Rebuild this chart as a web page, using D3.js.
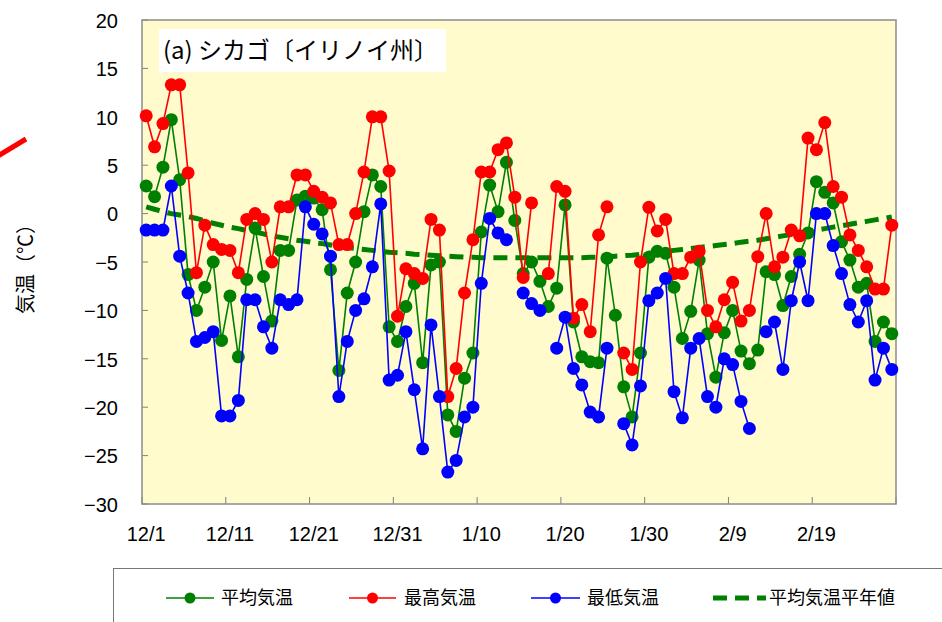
<!DOCTYPE html>
<html>
<head>
<meta charset="utf-8">
<script src="https://cdn.jsdelivr.net/npm/d3@7"></script>
<style>
  body { margin: 0; background: #fff; }
  svg { display: block; }
  .num { font-family: "Liberation Sans", "DejaVu Sans", sans-serif; font-size: 20px; fill: #000; }
  .jp { font-family: "Noto Sans CJK JP", sans-serif; fill: #000; }
</style>
</head>
<body>
<div id="chart"></div>
<script>
// days from 12/1 to 2/28
var dayLabels = ['12/1', '12/11', '12/21', '12/31', '1/10', '1/20', '1/30', '2/9', '2/19'];
var yTicks = [20, 15, 10, 5, 0, -5, -10, -15, -20, -25, -30];

// 平均気温
var meanTemp = [
  2.85, 1.75, 4.8, 9.7, 3.5, -6.3, -10.0, -7.6, -5.0, -13.1,
  -8.5, -14.8, -6.8, -1.5, -6.5, -11.1, -3.8, -3.8, 1.4, 1.8,
  1.6, 0.4, -5.8, -16.2, -8.2, -5.0, 0.2, 4.0, 2.8, -11.7,
  -13.2, -9.6, -7.2, -15.4, -5.3, -5.0, -20.8, -22.5, -17.0, -14.4,
  -1.9, 2.95, 0.2, 5.3, -0.7, -6.2, -5.0, -7.0, -9.6, -7.7,
  0.9, -11.2, -14.8, -15.3, -15.4, -4.6, -10.5, -17.9, -21.0, -14.4,
  -4.5, -3.9, -4.1, -7.6, -12.9, -10.1, -4.8, -12.4, -16.9, -12.3,
  -10.0, -14.2, -15.5, -14.1, -6.0, -6.3, -9.5, -6.5, -4.2, -2.0,
  3.3, 2.2, 1.1, -2.9, -4.8, -7.6, -7.2, -13.2, -11.2, -12.4
];

// 最高気温 (null = 欠測)
var maxTemp = [
  10.1, 6.9, 9.3, 13.3, 13.3, 4.2, -6.1, -1.2, -3.2, -3.7,
  -3.8, -6.1, -0.6, 0.0, -0.6, -5.0, 0.7, 0.7, 4.0, 4.0,
  2.3, 1.7, 1.1, -3.2, -3.2, 0.0, 4.3, 10.0, 10.0, 4.4,
  -10.6, -5.7, -6.2, -6.7, -0.6, -1.7, -18.9, -16.0, -8.2, -2.7,
  4.3, 4.3, 6.6, 7.3, 1.7, -6.6, 1.1, null, -6.2, 2.8,
  2.3, -10.8, -9.4, -12.2, -2.2, 0.7, null, -14.4, -16.1, -5.0,
  0.65, -1.8, -0.6, -6.2, -6.2, -4.5, -3.9, -10.0, -11.7, -8.9,
  -7.1, -11.1, -10.0, -4.45, 0.0, -5.5, -4.5, -1.7, -2.3, 7.8,
  6.6, 9.4, 2.8, 1.7, -2.2, -3.8, -5.5, -7.8, -7.8, -1.2
];

// 最低気温 (null = 欠測)
var minTemp = [
  -1.7, -1.7, -1.7, 2.85, -4.4, -8.2, -13.2, -12.8, -12.2, -20.9,
  -20.9, -19.3, -8.9, -8.9, -11.7, -13.9, -8.9, -9.4, -8.9, 0.7,
  -1.1, -2.1, -4.4, -18.9, -13.2, -10.0, -8.8, -5.5, 1.0, -17.2,
  -16.7, -12.2, -18.2, -24.3, -11.5, -18.9, -26.7, -25.5, -21.0, -20.0,
  -7.2, -0.5, -2.0, -2.7, null, -8.2, -9.3, -10.0, null, -13.9,
  -10.7, -16.0, -17.7, -20.5, -21.0, -13.9, null, -21.7, -23.9, -17.8,
  -9.0, -8.2, -6.7, -18.4, -21.1, -13.9, -12.9, -18.9, -20.0, -15.0,
  -15.6, -19.4, -22.2, null, -12.2, -11.2, -16.1, -9.0, -5.0, -9.0,
  0.0, 0.0, -3.3, -6.2, -9.4, -11.2, -9.0, -17.2, -13.9, -16.1
];

// 平均気温平年値
var normalTemp = [
  0.7, 0.45, 0.2, 0.0, -0.15, -0.3, -0.5, -0.75, -1.0, -1.2,
  -1.4, -1.55, -1.75, -1.9, -2.1, -2.3, -2.45, -2.6, -2.75, -2.85,
  -3.0, -3.1, -3.25, -3.4, -3.5, -3.6, -3.7, -3.8, -3.9, -4.0,
  -4.05, -4.1, -4.2, -4.25, -4.3, -4.35, -4.4, -4.45, -4.5, -4.5,
  -4.55, -4.55, -4.55, -4.55, -4.55, -4.55, -4.55, -4.55, -4.55, -4.55,
  -4.55, -4.55, -4.55, -4.5, -4.5, -4.45, -4.4, -4.35, -4.3, -4.2,
  -4.1, -4.0, -3.9, -3.8, -3.7, -3.6, -3.5, -3.4, -3.3, -3.2,
  -3.1, -2.95, -2.85, -2.75, -2.6, -2.45, -2.3, -2.15, -2.0, -1.85,
  -1.7, -1.55, -1.4, -1.25, -1.1, -0.95, -0.8, -0.65, -0.5, -0.35
];

var W = 942, H = 622;
var plot = {left: 142, right: 896, top: 20, bottom: 504};
var nDays = meanTemp.length;

var svg = d3.select('#chart').append('svg')
  .attr('width', W).attr('height', H);

var x = d3.scaleLinear().domain([0, nDays]).range([plot.left, plot.right]);
var y = d3.scaleLinear().domain([-30, 20]).range([plot.bottom, plot.top]);

// plot area
svg.append('rect')
  .attr('x', plot.left).attr('y', plot.top)
  .attr('width', plot.right - plot.left).attr('height', plot.bottom - plot.top)
  .attr('fill', '#fffbcd');

// y axis: labels outside, ticks inside
var yAxis = d3.axisLeft(y).tickValues(yTicks).tickSize(0).tickPadding(24)
  .tickFormat(function(d) { return d < 0 ? '\u2212' + Math.abs(d) : d; });
var gy = svg.append('g').attr('transform', 'translate(' + plot.left + ',0)').call(yAxis);
gy.select('.domain').remove();
gy.selectAll('text').attr('class', 'num').attr('dy', '0.36em')
  .attr('font-family', null).attr('font-size', null);

svg.append('g').selectAll('line').data(yTicks).enter().append('line')
  .attr('x1', plot.left).attr('x2', plot.left + 6)
  .attr('y1', function(d) { return y(d); }).attr('y2', function(d) { return y(d); })
  .attr('stroke', '#808080').attr('stroke-width', 1);

// x axis: tick marks on 10-day boundaries, labels at day centres
var tickDays = d3.range(0, nDays + 1, 10);
svg.append('g').selectAll('line').data(tickDays).enter().append('line')
  .attr('x1', function(d) { return x(d); }).attr('x2', function(d) { return x(d); })
  .attr('y1', plot.bottom).attr('y2', plot.bottom - 7)
  .attr('stroke', '#808080').attr('stroke-width', 1);

svg.append('g').selectAll('text').data(dayLabels).enter().append('text')
  .attr('class', 'num')
  .attr('x', function(d, i) { return x(i * 10 + 0.5); })
  .attr('y', 541)
  .attr('text-anchor', 'middle')
  .text(function(d) { return d; });

// plot border
svg.append('rect')
  .attr('x', plot.left).attr('y', plot.top)
  .attr('width', plot.right - plot.left).attr('height', plot.bottom - plot.top)
  .attr('fill', 'none').attr('stroke', '#8c8c8c').attr('stroke-width', 1.5);

// title box
svg.append('rect').attr('x', 159).attr('y', 29).attr('width', 287).attr('height', 43).attr('fill', '#fff');
svg.append('text').attr('class', 'jp').attr('x', 163).attr('y', 59)
  .attr('font-size', 24).text('(a) シカゴ〔イリノイ州〕');

// y title
svg.append('text').attr('class', 'jp')
  .attr('transform', 'translate(33,264) rotate(-90)')
  .attr('text-anchor', 'middle').attr('font-size', 20)
  .text('気温（℃）');

// series
var series = [
  {name: '平均気温平年値', values: normalTemp, color: '#008000', dashed: true},
  {name: '平均気温', values: meanTemp, color: '#008000'},
  {name: '最高気温', values: maxTemp, color: '#ff0000'},
  {name: '最低気温', values: minTemp, color: '#0000ff'}
];

var line = d3.line()
  .defined(function(d) { return d != null; })
  .x(function(d, i) { return x(i + 0.5); })
  .y(function(d) { return y(d); });

series.forEach(function(s) {
  var g = svg.append('g');
  g.append('path')
    .attr('d', line(s.values))
    .attr('fill', 'none')
    .attr('stroke', s.color)
    .attr('stroke-width', s.dashed ? 5 : 1.6)
    .attr('stroke-dasharray', s.dashed ? '14,8' : null);
  if (s.dashed) return;
  g.selectAll('circle')
    .data(s.values.map(function(v, i) { return {v: v, i: i}; })
      .filter(function(d) { return d.v != null; }))
    .enter().append('circle')
    .attr('cx', function(d) { return x(d.i + 0.5); })
    .attr('cy', function(d) { return y(d.v); })
    .attr('r', 6.5)
    .attr('fill', s.color);
});

// red mark on the left edge
svg.append('line').attr('x1', -2).attr('y1', 156).attr('x2', 26).attr('y2', 139)
  .attr('stroke', '#ff0000').attr('stroke-width', 5);

// legend
svg.append('rect').attr('x', 113.5).attr('y', 568.5).attr('width', 840).attr('height', 80)
  .attr('fill', '#fff').attr('stroke', '#777').attr('stroke-width', 1);

var legendItems = [
  {label: '平均気温', color: '#008000', x0: 166, x1: 214, tx: 221},
  {label: '最高気温', color: '#ff0000', x0: 349, x1: 396, tx: 404},
  {label: '最低気温', color: '#0000ff', x0: 531, x1: 580, tx: 587},
  {label: '平均気温平年値', color: '#008000', x0: 713, x1: 766, tx: 769, dashed: true}
];
var ly = 598;
legendItems.forEach(function(d) {
  if (d.dashed) {
    svg.append('line').attr('x1', d.x0).attr('x2', d.x1).attr('y1', ly).attr('y2', ly)
      .attr('stroke', d.color).attr('stroke-width', 5).attr('stroke-dasharray', '14,8');
  } else {
    svg.append('line').attr('x1', d.x0).attr('x2', d.x1).attr('y1', ly).attr('y2', ly)
      .attr('stroke', d.color).attr('stroke-width', 1.6);
    svg.append('circle').attr('cx', (d.x0 + d.x1) / 2).attr('cy', ly).attr('r', 5.5)
      .attr('fill', d.color);
  }
  svg.append('text').attr('class', 'jp').attr('x', d.tx).attr('y', ly + 6)
    .attr('font-size', 18).text(d.label);
});
</script>
</body>
</html>
